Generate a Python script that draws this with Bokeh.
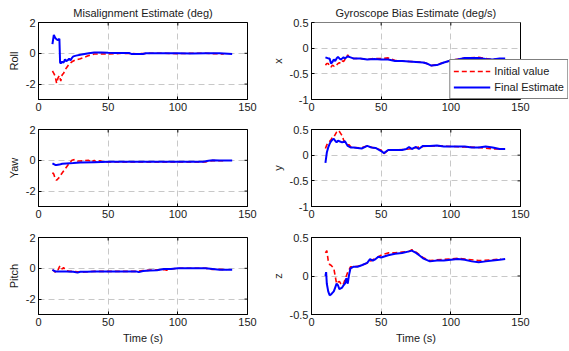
import math
from bokeh.plotting import figure
from bokeh.layouts import row, column
from bokeh.models import Range1d, FixedTicker, Legend, BoxAnnotation
from bokeh.embed import file_html
from bokeh.resources import INLINE

# ---------------- data ----------------
roll_fin_t = [10, 11, 12, 13, 14, 15, 15.5, 16, 17, 18, 19, 20, 21, 22, 23, 24, 25, 27, 30, 33, 36, 40, 45, 50, 55, 60, 65, 67, 70, 75, 77, 80, 90, 100, 110, 120, 130, 139]
roll_fin_v = [0.6, 1.2, 1.0, 0.9, 0.85, 0.95, -0.6, -0.65, -0.55, -0.6, -0.4, -0.5, -0.45, -0.35, -0.45, -0.3, -0.2, -0.15, -0.1, -0.05, 0, 0.05, 0.05, 0.03, 0.02, 0.02, 0.02, -0.05, -0.05, -0.04, 0.0, 0.01, 0.01, 0.0, -0.02, 0.0, 0.0, -0.05]
roll_ini_t = [10, 11, 12, 13, 14, 15, 16, 17, 18, 19, 20, 22, 24, 26, 28, 30, 33, 36, 40, 45, 50, 60, 70, 80, 90, 100, 110, 120, 133]
roll_ini_v = [-1.15, -1.3, -1.5, -1.95, -1.6, -1.45, -1.8, -1.4, -1.3, -1.1, -0.95, -0.7, -0.55, -0.45, -0.4, -0.35, -0.25, -0.15, -0.05, -0.05, -0.05, 0.0, -0.03, 0.0, 0.0, -0.02, 0.0, 0.0, -0.05]

yaw_fin_t = [10, 12, 13, 15, 17, 20, 25, 30, 40, 50, 60, 80, 100, 118, 122, 125, 130, 139]
yaw_fin_v = [-0.2, -0.3, -0.3, -0.28, -0.22, -0.2, -0.18, -0.15, -0.12, -0.1, -0.1, -0.1, -0.1, -0.1, -0.03, 0.0, -0.02, -0.02]
yaw_ini_t = [10, 11, 12, 13, 14, 15, 16, 18, 20, 22, 24, 26, 28, 30, 33, 36, 38, 40, 42, 44, 46, 50, 60, 80, 100, 120, 125, 133]
yaw_ini_v = [-0.8, -0.9, -1.2, -1.3, -1.2, -1.1, -0.95, -0.7, -0.45, -0.2, 0.0, 0.05, -0.05, -0.05, -0.02, 0.0, -0.12, 0.0, -0.15, -0.02, -0.1, -0.1, -0.1, -0.1, -0.1, -0.1, -0.02, -0.03]

pitch_fin_t = [10, 12, 15, 20, 25, 28, 30, 35, 40, 50, 60, 70, 72, 75, 80, 85, 90, 95, 100, 110, 120, 125, 130, 139]
pitch_fin_v = [-0.1, -0.2, -0.2, -0.2, -0.22, -0.28, -0.22, -0.22, -0.2, -0.2, -0.2, -0.2, -0.25, -0.18, -0.15, -0.12, -0.05, -0.05, 0.0, 0.0, 0.0, -0.05, -0.1, -0.1]
pitch_ini_t = [10, 11, 12, 13, 14, 15, 16, 17, 18, 19, 20, 22, 25, 30, 40, 50, 60, 70, 75, 80, 85, 90, 92, 95, 100, 110, 120, 125, 128, 135]
pitch_ini_v = [-0.1, -0.15, -0.25, -0.05, -0.1, 0.1, 0.15, -0.05, 0.05, -0.1, -0.15, -0.2, -0.2, -0.25, -0.2, -0.2, -0.2, -0.2, -0.15, -0.12, -0.1, -0.08, -0.12, -0.05, 0.0, 0.0, 0.0, -0.08, -0.05, -0.1]

gx_fin_t = [10, 12, 13, 14, 15, 16, 17, 18, 19, 20, 21, 22, 23, 24, 26, 28, 30, 35, 40, 45, 50, 55, 60, 65, 70, 75, 80, 83, 86, 90, 95, 100, 105, 110, 115, 120, 125, 130, 135, 139]
gx_fin_v = [-0.18, -0.2, -0.2, -0.3, -0.27, -0.22, -0.25, -0.2, -0.17, -0.2, -0.22, -0.2, -0.18, -0.2, -0.16, -0.18, -0.2, -0.2, -0.22, -0.21, -0.22, -0.22, -0.25, -0.25, -0.26, -0.27, -0.28, -0.3, -0.34, -0.33, -0.28, -0.24, -0.22, -0.19, -0.19, -0.19, -0.21, -0.22, -0.2, -0.2]
gx_ini_t = [10, 11, 12, 13, 14, 15, 16, 17, 18, 19, 20, 21, 22, 23, 24, 25, 26, 27, 28, 30, 35, 40, 45, 50, 55, 60, 70, 80, 86, 90, 100, 110, 120, 130, 136]
gx_ini_v = [-0.33, -0.3, -0.3, -0.35, -0.37, -0.33, -0.35, -0.32, -0.33, -0.3, -0.28, -0.3, -0.25, -0.26, -0.22, -0.2, -0.13, -0.17, -0.17, -0.2, -0.2, -0.22, -0.2, -0.2, -0.19, -0.24, -0.26, -0.27, -0.34, -0.32, -0.24, -0.19, -0.18, -0.22, -0.2]

gy_fin_t = [10, 11, 12, 13, 14, 15, 16, 17, 18, 19, 20, 22, 24, 26, 28, 30, 33, 36, 40, 43, 46, 50, 52, 55, 60, 65, 68, 70, 72, 75, 77, 80, 85, 90, 95, 100, 110, 115, 120, 125, 130, 135, 139]
gy_fin_v = [-0.15, 0.05, 0.15, 0.22, 0.27, 0.3, 0.32, 0.28, 0.25, 0.28, 0.27, 0.25, 0.27, 0.18, 0.15, 0.15, 0.14, 0.13, 0.18, 0.15, 0.14, 0.08, 0.04, 0.1, 0.1, 0.1, 0.12, 0.16, 0.12, 0.16, 0.12, 0.18, 0.18, 0.19, 0.17, 0.17, 0.17, 0.15, 0.15, 0.17, 0.15, 0.12, 0.12]
gy_ini_t = [10, 11, 12, 13, 14, 15, 16, 17, 18, 19, 20, 21, 22, 23, 24, 25, 26, 27, 28, 30, 35, 40, 45, 50, 52, 55, 60, 70, 80, 90, 100, 110, 120, 130, 136]
gy_ini_v = [0.13, 0.2, 0.25, 0.27, 0.3, 0.35, 0.35, 0.4, 0.45, 0.48, 0.46, 0.42, 0.38, 0.3, 0.25, 0.22, 0.2, 0.2, 0.17, 0.15, 0.14, 0.18, 0.14, 0.1, 0.03, 0.1, 0.1, 0.12, 0.17, 0.18, 0.17, 0.16, 0.15, 0.12, 0.12]

gz_fin_t = [10, 10.5, 11, 12, 13, 14, 15, 16, 17, 18, 19, 20, 21, 22, 23, 24, 25, 26, 27, 28, 30, 33, 36, 40, 42, 44, 46, 48, 50, 55, 60, 65, 70, 72, 75, 78, 80, 85, 90, 95, 100, 105, 110, 115, 120, 125, 130, 135, 139]
gz_fin_v = [0.0, 0.05, -0.1, -0.2, -0.25, -0.24, -0.22, -0.2, -0.15, -0.1, -0.12, -0.17, -0.16, -0.15, -0.12, -0.1, -0.03, -0.1, 0.02, 0.1, 0.12, 0.12, 0.14, 0.17, 0.22, 0.2, 0.22, 0.25, 0.24, 0.27, 0.29, 0.3, 0.32, 0.33, 0.3, 0.26, 0.23, 0.19, 0.2, 0.2, 0.21, 0.22, 0.21, 0.19, 0.18, 0.19, 0.2, 0.21, 0.22]
gz_ini_t = [10, 11, 12, 13, 14, 15, 16, 17, 18, 19, 20, 21, 22, 23, 24, 25, 26, 27, 28, 30, 35, 40, 45, 50, 55, 60, 65, 70, 72, 75, 80, 85, 90, 100, 105, 110, 120, 130, 136]
gz_ini_v = [0.3, 0.33, 0.2, 0.15, 0.14, 0.12, 0.1, 0.0, -0.1, -0.08, -0.07, -0.1, -0.12, -0.1, -0.05, 0.0, 0.05, 0.08, 0.12, 0.12, 0.13, 0.17, 0.22, 0.27, 0.3, 0.3, 0.31, 0.32, 0.34, 0.31, 0.24, 0.2, 0.21, 0.22, 0.23, 0.22, 0.2, 0.21, 0.22]

x_lim = (0, 150)
x_ticks = [0, 50, 100, 150]
left_y_lim = (-3, 2)
left_y_ticks = [-2, 0, 2]
gxy_lim = (-1, 0.5)
gxy_ticks = [-1, -0.5, 0, 0.5]
gz_lim = (-0.5, 0.5)
gz_ticks = [-0.5, 0, 0.5]

titles = ["Misalignment Estimate (deg)", "Gyroscope Bias Estimate (deg/s)"]
left_labels = ["Roll", "Yaw", "Pitch"]
right_labels = ["x", "y", "z"]
legend_labels = ["Initial value", "Final Estimate"]
x_label = "Time (s)"

FONT = "Liberation Sans"
TXT = "#1a1a1a"
FW = 209          # frame width
FH = 77           # frame height
EXT = 48          # legend overhang past the right box edge
TOPS = [22, 13, 14]
BOTS = [17, 17, 35]
LEFT_B = [38, 45]
RIGHT_B = [19, EXT]
TITLE_W = 161     # approx. pixel width of the right title


def fmt(v):
    return "%g" % v


def make_fig(ylabel, ylim, yticks, ini_t, ini_v, fin_t, fin_v, col, rowi, title=None, ext=0):
    x_end = x_lim[1] if ext == 0 else x_lim[0] + (x_lim[1] - x_lim[0]) * (FW + ext) / FW
    p = figure(frame_width=FW + ext, frame_height=FH,
               min_border_left=LEFT_B[col], min_border_right=RIGHT_B[col] - ext,
               min_border_top=TOPS[rowi], min_border_bottom=BOTS[rowi],
               x_range=Range1d(x_lim[0], x_end), y_range=Range1d(*ylim),
               output_backend="svg", toolbar_location=None, title=title)
    p.background_fill_color = "white"
    p.border_fill_color = "white"
    p.outline_line_color = "black" if ext == 0 else None
    p.outline_line_width = 1
    if title:
        p.title.text_font = FONT
        p.title.text_font_size = "11px"
        p.title.text_font_style = "normal"
        p.title.text_color = TXT
        p.title.standoff = 7
        if ext == 0:
            p.title.align = "center"
        else:
            p.title.align = "left"
            p.title.offset = (FW - TITLE_W) / 2
    for ax in p.xaxis + p.yaxis:
        ax.major_tick_in = 3
        ax.major_tick_out = 0
        ax.minor_tick_in = 0
        ax.minor_tick_out = 0
        ax.axis_line_color = "black"
        ax.major_tick_line_color = "black"
        ax.major_label_text_font = FONT
        ax.major_label_text_font_size = "11px"
        ax.major_label_text_color = TXT
        ax.axis_label_text_font = FONT
        ax.axis_label_text_font_size = "11px"
        ax.axis_label_text_font_style = "normal"
        ax.axis_label_text_color = TXT
    p.xaxis.ticker = FixedTicker(ticks=x_ticks)
    p.xaxis.major_label_overrides = {t: fmt(t) for t in x_ticks}
    p.xaxis.major_label_standoff = 3
    p.yaxis.ticker = FixedTicker(ticks=yticks)
    p.yaxis.major_label_overrides = {t: fmt(t) for t in yticks}
    p.yaxis.major_label_standoff = 3
    p.yaxis.axis_label = ylabel
    p.yaxis.axis_label_standoff = 3
    if rowi == 2:
        p.xaxis.axis_label = x_label
        p.xaxis.axis_label_standoff = 3
    p.xgrid.ticker = FixedTicker(ticks=x_ticks[1:-1])
    p.ygrid.ticker = FixedTicker(ticks=yticks)
    for g in (p.xgrid, p.ygrid):
        g.grid_line_color = "#c8c8c8"
        g.grid_line_dash = "6 4"
        g.grid_line_width = 1

    if ext:
        # box drawn only up to the last x tick; the area past it holds the legend
        p.xaxis.bounds = x_lim
        p.add_layout(BoxAnnotation(left=x_lim[1], fill_color="white", fill_alpha=1.0,
                                   line_color=None, level="underlay"))
        p.segment(x0=[x_lim[0], x_lim[1]], y0=[ylim[1], ylim[0]],
                  x1=[x_lim[1], x_lim[1]], y1=[ylim[1], ylim[1]],
                  line_color="black", line_width=1)
    # inward ticks on the top side and right side of the box
    p.scatter(x_ticks, [ylim[1]] * len(x_ticks), marker="dash", size=6, angle=math.pi / 2,
              line_color="black", line_width=1)
    if ext == 0:
        p.scatter([x_lim[1]] * len(yticks), yticks, marker="dash", size=6,
                  line_color="black", line_width=1)
    r_ini = p.line(ini_t, ini_v, line_color="#ff0000", line_width=1.6, line_dash="5 3")
    r_fin = p.line(fin_t, fin_v, line_color="#0000ff", line_width=2)
    return p, r_ini, r_fin


f1, _, _ = make_fig(left_labels[0], left_y_lim, left_y_ticks, roll_ini_t, roll_ini_v, roll_fin_t, roll_fin_v, 0, 0, titles[0])
f2, _, _ = make_fig(left_labels[1], left_y_lim, left_y_ticks, yaw_ini_t, yaw_ini_v, yaw_fin_t, yaw_fin_v, 0, 1)
f3, _, _ = make_fig(left_labels[2], left_y_lim, left_y_ticks, pitch_ini_t, pitch_ini_v, pitch_fin_t, pitch_fin_v, 0, 2)
g1, ri, rf = make_fig(right_labels[0], gxy_lim, gxy_ticks, gx_ini_t, gx_ini_v, gx_fin_t, gx_fin_v, 1, 0, titles[1], ext=EXT)
g2, _, _ = make_fig(right_labels[1], gxy_lim, gxy_ticks, gy_ini_t, gy_ini_v, gy_fin_t, gy_fin_v, 1, 1)
g3, _, _ = make_fig(right_labels[2], gz_lim, gz_ticks, gz_ini_t, gz_ini_v, gz_fin_t, gz_fin_v, 1, 2)

legend = Legend(items=[(legend_labels[0], [ri]), (legend_labels[1], [rf])],
                location="bottom_right", orientation="vertical",
                border_line_color="black", border_line_width=1,
                background_fill_color="white", background_fill_alpha=1.0,
                padding=3, spacing=0, margin=0,
                glyph_width=37, glyph_height=16, label_height=16, label_standoff=4,
                label_text_font=FONT, label_text_font_size="11px", label_text_color=TXT)
g1.add_layout(legend)

layout = row(column(f1, f2, f3), column(g1, g2, g3))

open("out.html", "w").write(file_html(layout, INLINE))
